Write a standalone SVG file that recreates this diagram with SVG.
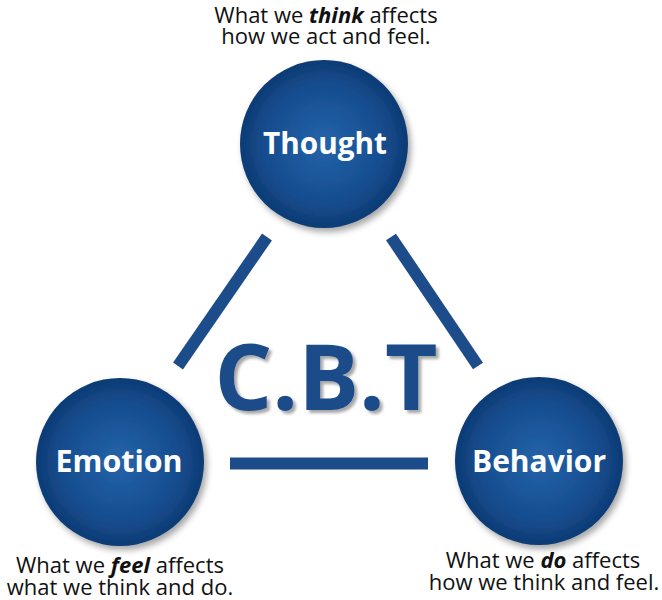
<svg xmlns="http://www.w3.org/2000/svg" width="662" height="600" viewBox="0 0 662 600">
<defs>
<radialGradient id="ball" cx="50%" cy="50%" r="50%">
<stop offset="0" stop-color="#2463aa"/>
<stop offset="0.7" stop-color="#164d8f"/>
<stop offset="1" stop-color="#0e3b74"/>
</radialGradient>
<filter id="sh" x="-20%" y="-20%" width="150%" height="150%">
<feDropShadow dx="3" dy="4" stdDeviation="3" flood-color="#000" flood-opacity="0.35"/>
</filter>
<filter id="tsh" x="-10%" y="-10%" width="130%" height="130%">
<feDropShadow dx="3" dy="3" stdDeviation="1.5" flood-color="#000" flood-opacity="0.35"/>
</filter>
</defs>
<style>
.node circle{fill:url(#ball);filter:url(#sh)}
.lbl{font-family:"Open Sans","DejaVu Sans",sans-serif;font-weight:bold;font-size:30px;fill:#fff;text-anchor:middle}
.cap{font-family:"Open Sans","DejaVu Sans",sans-serif;font-size:22px;fill:#111;text-anchor:middle}
.cap .b{font-weight:bold;font-style:italic}
.conn line{stroke:#1d4c8a;stroke-width:12}
.cbt{font-family:"Open Sans","DejaVu Sans",sans-serif;font-weight:bold;font-size:91px;fill:#1d4c8a;text-anchor:middle;filter:url(#tsh)}
</style>
<rect width="662" height="600" fill="#fff"/>
<g id="connectors" class="conn">
<line x1="267" y1="237" x2="178" y2="366"/>
<line x1="391" y1="237" x2="478" y2="366"/>
<line x1="230" y1="463.5" x2="428" y2="463.5" stroke-width="13"/>
</g>
<text class="cbt" x="326" y="410" textLength="223" lengthAdjust="spacingAndGlyphs">C.B.T</text>
<g id="thought" class="node">
<circle cx="324" cy="144" r="84"/>
<text class="lbl" x="325" y="154" textLength="124" lengthAdjust="spacingAndGlyphs">Thought</text>
</g>
<g id="emotion" class="node">
<circle cx="120" cy="462" r="84"/>
<text class="lbl" x="119" y="472" textLength="127" lengthAdjust="spacingAndGlyphs">Emotion</text>
</g>
<g id="behavior" class="node">
<circle cx="539" cy="461" r="84"/>
<text class="lbl" x="539" y="472" textLength="134" lengthAdjust="spacingAndGlyphs">Behavior</text>
</g>
<g id="captions">
<text class="cap" x="326" y="23">What we <tspan class="b">think</tspan> affects</text>
<text class="cap" x="326" y="44">how we act and feel.</text>
<text class="cap" x="120" y="573">What we <tspan class="b">feel</tspan> affects</text>
<text class="cap" x="120" y="595">what we think and do.</text>
<text class="cap" x="543" y="568">What we <tspan class="b">do</tspan> affects</text>
<text class="cap" x="544" y="590">how we think and feel.</text>
</g>
</svg>
